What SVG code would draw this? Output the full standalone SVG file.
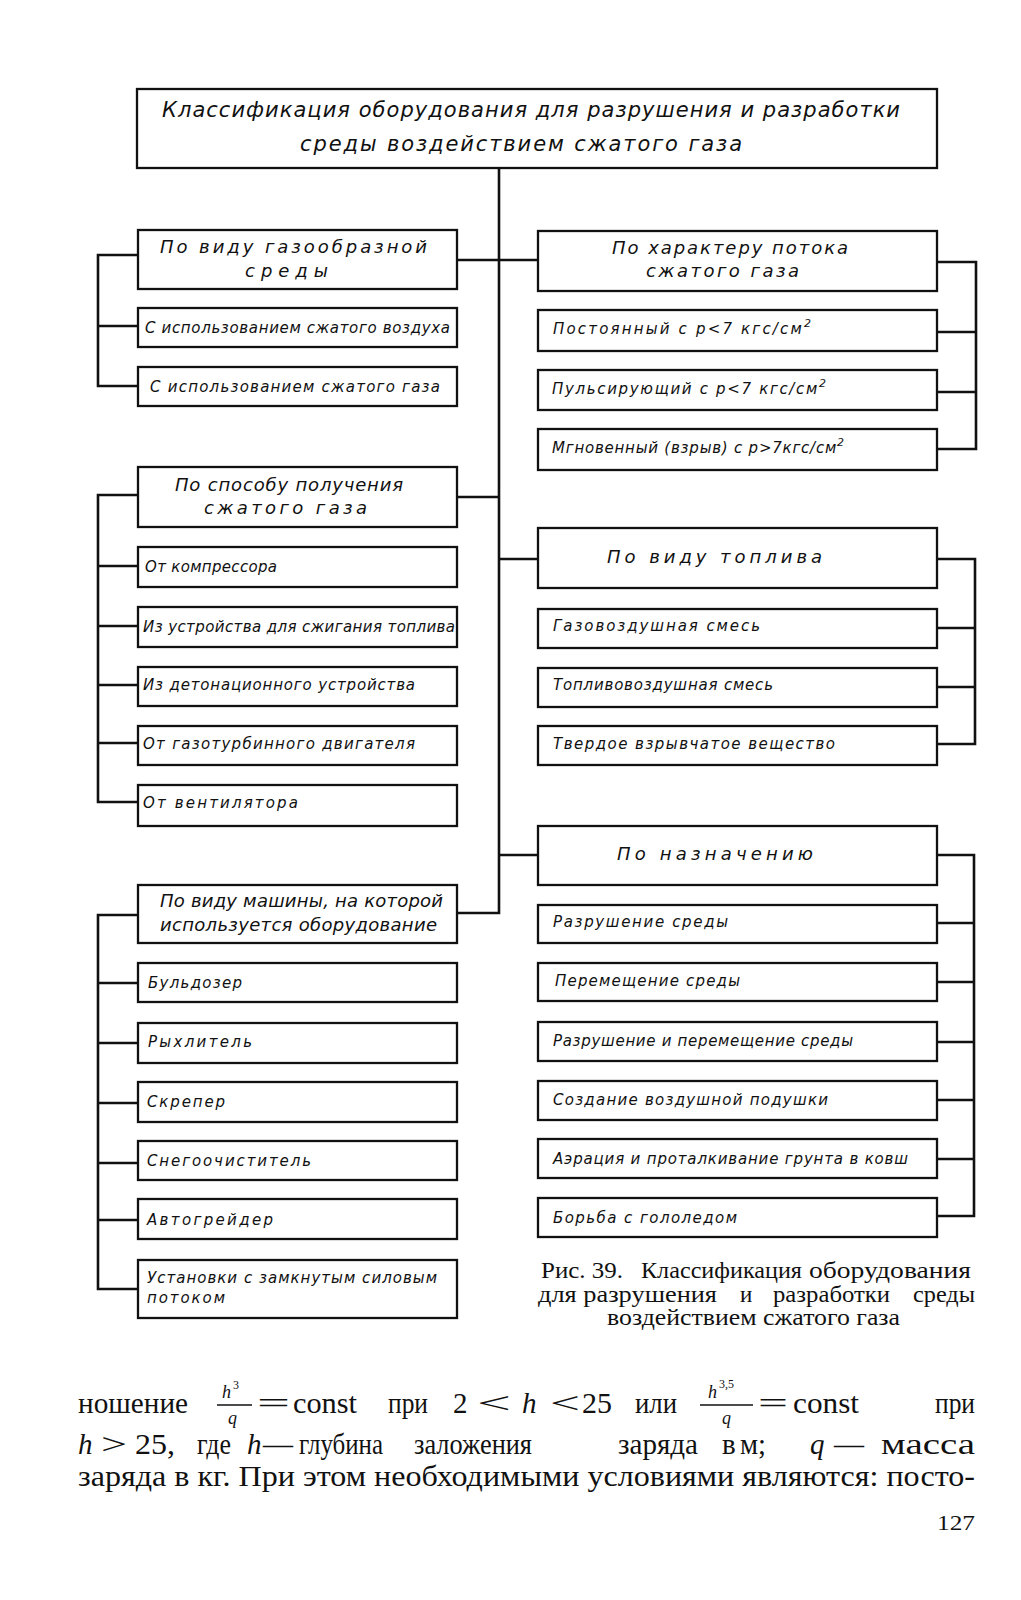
<svg xmlns="http://www.w3.org/2000/svg" width="1021" height="1600" viewBox="0 0 1021 1600">
<style>
.bx{fill:#fff;stroke:#111;stroke-width:2.3}
.ln{stroke:#111;stroke-width:2.6;fill:none;stroke-linejoin:miter}
.d{font-family:"DejaVu Sans","Liberation Sans",sans-serif;font-style:italic;fill:#111}
.s{font-size:15px}
.h{font-size:18px}
.t{font-size:21px}
.b{font-family:"Liberation Serif","Times New Roman",serif;fill:#111}
.i{font-style:italic}
.fr{font-family:"Liberation Serif","Times New Roman",serif;font-style:italic;font-size:18px;fill:#111}
.sup{font-family:"Liberation Serif","Times New Roman",serif;font-size:12px;fill:#111}
</style>
<rect width="1021" height="1600" fill="#fff"/>
<g id="connectors">
<path class="ln" d="M499 168 V913 H457"/>
<path class="ln" d="M457 260 H538"/>
<path class="ln" d="M457 497 H499"/>
<path class="ln" d="M499 559 H538"/>
<path class="ln" d="M499 855 H538"/>
<path class="ln" d="M137 255 H98 V386 H138 M98 326 H138"/>
<path class="ln" d="M138 495 H98 V802 H138 M98 566 H138 M98 626 H138 M98 685 H138 M98 743 H138"/>
<path class="ln" d="M138 915 H98 V1289 H138 M98 983 H138 M98 1043 H138 M98 1103 H138 M98 1163 H138 M98 1220 H138"/>
<path class="ln" d="M937 262 H976 V449 H937 M976 332 H937 M976 392 H937"/>
<path class="ln" d="M937 559 H975 V744 H937 M975 628 H937 M975 687 H937"/>
<path class="ln" d="M937 855 H974 V1216 H937 M974 923 H937 M974 982 H937 M974 1042 H937 M974 1100 H937 M974 1159 H937"/>
</g>
<g id="title"><rect class="bx" x="137" y="89" width="800" height="79"/>
<text class="d t" x="162" y="117" textLength="738" lengthAdjust="spacing">Классификация  оборудования  для  разрушения и разработки</text>
<text class="d t" x="300" y="151" textLength="442" lengthAdjust="spacing">среды воздействием сжатого газа</text></g>

<g id="l-h1"><rect class="bx" x="138" y="230" width="319" height="59"/>
<text class="d h" x="160" y="253" textLength="267" lengthAdjust="spacing">По виду газообразной</text>
<text class="d h" x="245" y="277" textLength="83" lengthAdjust="spacing">среды</text></g>
<g id="l-a1"><rect class="bx" x="138" y="308" width="319" height="39"/><text class="d s" x="145" y="333" textLength="305" lengthAdjust="spacing">С использованием сжатого воздуха</text></g>
<g id="l-a2"><rect class="bx" x="138" y="367" width="319" height="39"/><text class="d s" x="150" y="392" textLength="290" lengthAdjust="spacing">С использованием сжатого газа</text></g>

<g id="l-h2"><rect class="bx" x="138" y="467" width="319" height="60"/>
<text class="d h" x="175" y="491" textLength="228" lengthAdjust="spacing">По способу получения</text>
<text class="d h" x="204" y="514" textLength="163" lengthAdjust="spacing">сжатого газа</text></g>
<g id="l-b1"><rect class="bx" x="138" y="547" width="319" height="40"/><text class="d s" x="145" y="572" textLength="132" lengthAdjust="spacing">От компрессора</text></g>
<g id="l-b2"><rect class="bx" x="138" y="607" width="319" height="40"/><text class="d s" x="143" y="632" textLength="312" lengthAdjust="spacing">Из устройства для сжигания топлива</text></g>
<g id="l-b3"><rect class="bx" x="138" y="667" width="319" height="39"/><text class="d s" x="143" y="690" textLength="272" lengthAdjust="spacing">Из детонационного устройства</text></g>
<g id="l-b4"><rect class="bx" x="138" y="726" width="319" height="39"/><text class="d s" x="143" y="749" textLength="272" lengthAdjust="spacing">От газотурбинного двигателя</text></g>
<g id="l-b5"><rect class="bx" x="138" y="785" width="319" height="41"/><text class="d s" x="143" y="808" textLength="155" lengthAdjust="spacing">От вентилятора</text></g>

<g id="l-h3"><rect class="bx" x="138" y="885" width="319" height="58"/>
<text class="d h" x="160" y="907" textLength="283" lengthAdjust="spacing">По виду машины, на которой</text>
<text class="d h" x="160" y="931" textLength="277" lengthAdjust="spacing">используется оборудование</text></g>
<g id="l-c1"><rect class="bx" x="138" y="963" width="319" height="39"/><text class="d s" x="148" y="988" textLength="94" lengthAdjust="spacing">Бульдозер</text></g>
<g id="l-c2"><rect class="bx" x="138" y="1023" width="319" height="40"/><text class="d s" x="148" y="1047" textLength="104" lengthAdjust="spacing">Рыхлитель</text></g>
<g id="l-c3"><rect class="bx" x="138" y="1082" width="319" height="40"/><text class="d s" x="147" y="1107" textLength="78" lengthAdjust="spacing">Скрепер</text></g>
<g id="l-c4"><rect class="bx" x="138" y="1141" width="319" height="39"/><text class="d s" x="147" y="1166" textLength="164" lengthAdjust="spacing">Снегоочиститель</text></g>
<g id="l-c5"><rect class="bx" x="138" y="1199" width="319" height="40"/><text class="d s" x="147" y="1225" textLength="126" lengthAdjust="spacing">Автогрейдер</text></g>
<g id="l-c6"><rect class="bx" x="138" y="1260" width="319" height="58"/>
<text class="d s" x="147" y="1283" textLength="290" lengthAdjust="spacing">Установки с замкнутым силовым</text>
<text class="d s" x="147" y="1303" textLength="78" lengthAdjust="spacing">потоком</text></g>

<g id="r-h1"><rect class="bx" x="538" y="231" width="399" height="60"/>
<text class="d h" x="612" y="254" textLength="236" lengthAdjust="spacing">По характеру потока</text>
<text class="d h" x="646" y="277" textLength="153" lengthAdjust="spacing">сжатого газа</text></g>
<g id="r-a1"><rect class="bx" x="538" y="310" width="399" height="41"/><text class="d s" x="553" y="334" textLength="258" lengthAdjust="spacing">Постоянный с   p&lt;7 кгс/см<tspan dy="-7" font-size="11">2</tspan></text></g>
<g id="r-a2"><rect class="bx" x="538" y="370" width="399" height="40"/><text class="d s" x="552" y="394" textLength="274" lengthAdjust="spacing">Пульсирующий с p&lt;7 кгс/см<tspan dy="-7" font-size="11">2</tspan></text></g>
<g id="r-a3"><rect class="bx" x="538" y="429" width="399" height="41"/><text class="d s" x="552" y="453" textLength="292" lengthAdjust="spacing">Мгновенный (взрыв) с p&gt;7кгс/см<tspan dy="-7" font-size="11">2</tspan></text></g>

<g id="r-h2"><rect class="bx" x="538" y="528" width="399" height="60"/>
<text class="d h" x="607" y="563" textLength="215" lengthAdjust="spacing">По виду топлива</text></g>
<g id="r-b1"><rect class="bx" x="538" y="609" width="399" height="39"/><text class="d s" x="553" y="631" textLength="207" lengthAdjust="spacing">Газовоздушная смесь</text></g>
<g id="r-b2"><rect class="bx" x="538" y="668" width="399" height="39"/><text class="d s" x="553" y="690" textLength="220" lengthAdjust="spacing">Топливовоздушная смесь</text></g>
<g id="r-b3"><rect class="bx" x="538" y="726" width="399" height="39"/><text class="d s" x="553" y="749" textLength="282" lengthAdjust="spacing">Твердое взрывчатое вещество</text></g>

<g id="r-h3"><rect class="bx" x="538" y="826" width="399" height="59"/>
<text class="d h" x="617" y="860" textLength="196" lengthAdjust="spacing">По  назначению</text></g>
<g id="r-c1"><rect class="bx" x="538" y="905" width="399" height="38"/><text class="d s" x="553" y="927" textLength="175" lengthAdjust="spacing">Разрушение среды</text></g>
<g id="r-c2"><rect class="bx" x="538" y="963" width="399" height="38"/><text class="d s" x="555" y="986" textLength="185" lengthAdjust="spacing">Перемещение среды</text></g>
<g id="r-c3"><rect class="bx" x="538" y="1022" width="399" height="39"/><text class="d s" x="553" y="1046" textLength="300" lengthAdjust="spacing">Разрушение и перемещение среды</text></g>
<g id="r-c4"><rect class="bx" x="538" y="1081" width="399" height="39"/><text class="d s" x="553" y="1105" textLength="275" lengthAdjust="spacing">Создание воздушной подушки</text></g>
<g id="r-c5"><rect class="bx" x="538" y="1139" width="399" height="39"/><text class="d s" x="553" y="1164" textLength="355" lengthAdjust="spacing">Аэрация и проталкивание грунта в ковш</text></g>
<g id="r-c6"><rect class="bx" x="538" y="1198" width="399" height="39"/><text class="d s" x="553" y="1223" textLength="184" lengthAdjust="spacing">Борьба с гололедом</text></g>

<g id="caption" class="b" font-size="23">
<text x="541" y="1278" textLength="82" lengthAdjust="spacingAndGlyphs">Рис. 39.</text>
<text x="641" y="1278" textLength="161" lengthAdjust="spacingAndGlyphs">Классификация</text>
<text x="809" y="1278" textLength="162" lengthAdjust="spacingAndGlyphs">оборудования</text>
<text x="538" y="1302" textLength="179" lengthAdjust="spacingAndGlyphs">для разрушения</text>
<text x="740" y="1302">и</text>
<text x="773" y="1302" textLength="117" lengthAdjust="spacingAndGlyphs">разработки</text>
<text x="913" y="1302" textLength="62" lengthAdjust="spacingAndGlyphs">среды</text>
<text x="607" y="1325" textLength="293" lengthAdjust="spacingAndGlyphs">воздействием сжатого газа</text>
</g>

<g id="fractions">
<text class="fr" x="222" y="1398">h</text><text class="sup" x="233" y="1389">3</text>
<line x1="217" y1="1405" x2="252" y2="1405" stroke="#111" stroke-width="1.3"/>
<text class="fr" x="228" y="1424">q</text>
<text class="fr" x="708" y="1398">h</text><text class="sup" x="719" y="1388">3,5</text>
<line x1="700" y1="1405" x2="753" y2="1405" stroke="#111" stroke-width="1.3"/>
<text class="fr" x="722" y="1424">q</text>
</g>

<g id="body" class="b" font-size="29">
<text x="78" y="1413" textLength="110" lengthAdjust="spacingAndGlyphs">ношение</text>
<text x="257" y="1413" textLength="33" lengthAdjust="spacingAndGlyphs">=</text>
<text x="293" y="1413" textLength="64" lengthAdjust="spacingAndGlyphs">const</text>
<text x="388" y="1413" textLength="40" lengthAdjust="spacingAndGlyphs">при</text>
<text x="453" y="1413">2</text>
<text x="477" y="1413" textLength="34" lengthAdjust="spacingAndGlyphs">&lt;</text>
<text class="i" x="522" y="1413">h</text>
<text x="550" y="1413" textLength="30" lengthAdjust="spacingAndGlyphs">&lt;</text>
<text x="582" y="1413" textLength="30" lengthAdjust="spacingAndGlyphs">25</text>
<text x="635" y="1413" textLength="42" lengthAdjust="spacingAndGlyphs">или</text>
<text x="758" y="1413" textLength="30" lengthAdjust="spacingAndGlyphs">=</text>
<text x="793" y="1413" textLength="66" lengthAdjust="spacingAndGlyphs">const</text>
<text x="935" y="1413" textLength="40" lengthAdjust="spacingAndGlyphs">при</text>

<text class="i" x="78" y="1454">h</text>
<text x="101" y="1454" textLength="26" lengthAdjust="spacingAndGlyphs">&gt;</text>
<text x="135" y="1454" textLength="40" lengthAdjust="spacingAndGlyphs">25,</text>
<text x="197" y="1454" textLength="34" lengthAdjust="spacingAndGlyphs">где</text>
<text class="i" x="247" y="1454">h</text>
<text x="263" y="1454" textLength="30" lengthAdjust="spacingAndGlyphs">—</text>
<text x="299" y="1454" textLength="84" lengthAdjust="spacingAndGlyphs">глубина</text>
<text x="414" y="1454" textLength="118" lengthAdjust="spacingAndGlyphs">заложения</text>
<text x="618" y="1454" textLength="80" lengthAdjust="spacingAndGlyphs">заряда</text>
<text x="722" y="1454">в</text>
<text x="740" y="1454" textLength="26" lengthAdjust="spacingAndGlyphs">м;</text>
<text class="i" x="810" y="1454">q</text>
<text x="834" y="1454" textLength="30" lengthAdjust="spacingAndGlyphs">—</text>
<text x="881" y="1454" textLength="94" lengthAdjust="spacingAndGlyphs">масса</text>

<text x="78" y="1486" textLength="897" lengthAdjust="spacingAndGlyphs">заряда в кг. При этом необходимыми условиями являются: посто-</text>
<text x="937" y="1530" font-size="22" textLength="38" lengthAdjust="spacingAndGlyphs">127</text>
</g>
</svg>
